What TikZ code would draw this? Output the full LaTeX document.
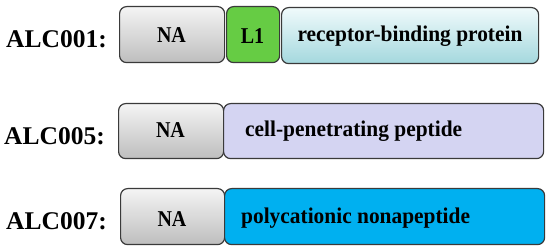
\documentclass[tikz,border=0pt]{standalone}
\usepackage{graphicx}
\usepackage{fontspec}
\setmainfont{Liberation Serif}
\definecolor{naTop}{HTML}{F4F4F4}
\definecolor{naBot}{HTML}{BEBEBE}
\definecolor{lgreen}{HTML}{66CC44}
\definecolor{rbTop}{HTML}{F0FAFB}
\definecolor{rbBot}{HTML}{A4D8DE}
\definecolor{lav}{HTML}{D4D4F2}
\definecolor{cyanb}{HTML}{00B0F0}
\definecolor{edge}{HTML}{3A3A3A}
\newcommand{\tallNA}[1]{\scalebox{1}[1.13]{#1}}
\newcommand{\tallTx}[1]{\scalebox{1}[1.05]{#1}}
\begin{document}
\begin{tikzpicture}[x=1pt,y=-1pt,
  seg/.style={draw=edge, line width=1.2pt, rounded corners=7pt, inner sep=0pt,
    anchor=north west, minimum height=56pt},
  nabox/.style={seg, top color=naTop, bottom color=naBot},
  rowlab/.style={anchor=base west, inner sep=0pt, font=\fontsize{25.5}{30}\selectfont\bfseries},
  small/.style={anchor=base, inner sep=0pt, font=\fontsize{20}{24}\selectfont\bfseries},
  big/.style={inner sep=0pt, font=\fontsize{21.4}{25}\selectfont\bfseries}]
\useasboundingbox (0,0) rectangle (550,251);
% row 1
\node[nabox, minimum width=105pt] (na1) at (119,6) {};
\node[seg, fill=lgreen, minimum width=53pt] (l1) at (226,6) {};
\node[seg, top color=rbTop, bottom color=rbBot, minimum width=257pt] (rbp) at (281,7) {};
\node[rowlab] (lab1) at (6,48) {ALC001:};
\node[small] (na1t) at (171.5,43) {\tallNA{NA}};
\node[small] (l1t) at (252.5,44) {\tallNA{L1}};
\node[big, anchor=base] (rbpt) at (410,42) {\tallTx{receptor-binding protein}};
% row 2
\node[nabox, minimum width=105pt, minimum height=55pt] (na2) at (118,103) {};
\node[seg, fill=lav, minimum width=320pt, minimum height=55pt] (cpp) at (223,103) {};
\node[rowlab] (lab2) at (4,145) {ALC005:};
\node[small] (na2t) at (170.5,138) {\tallNA{NA}};
\node[big, anchor=base west] (cppt) at (245,137) {\tallTx{cell-penetrating peptide}};
% row 3
\node[nabox, minimum width=104pt] (na3) at (120,188) {};
\node[seg, fill=cyanb, minimum width=320pt] (poly) at (224,188) {};
\node[rowlab] (lab3) at (6,230) {ALC007:};
\node[small] (na3t) at (172,227) {\tallNA{NA}};
\node[big, anchor=base west] (polyt) at (241,224) {\tallTx{polycationic nonapeptide}};
\end{tikzpicture}
\end{document}
